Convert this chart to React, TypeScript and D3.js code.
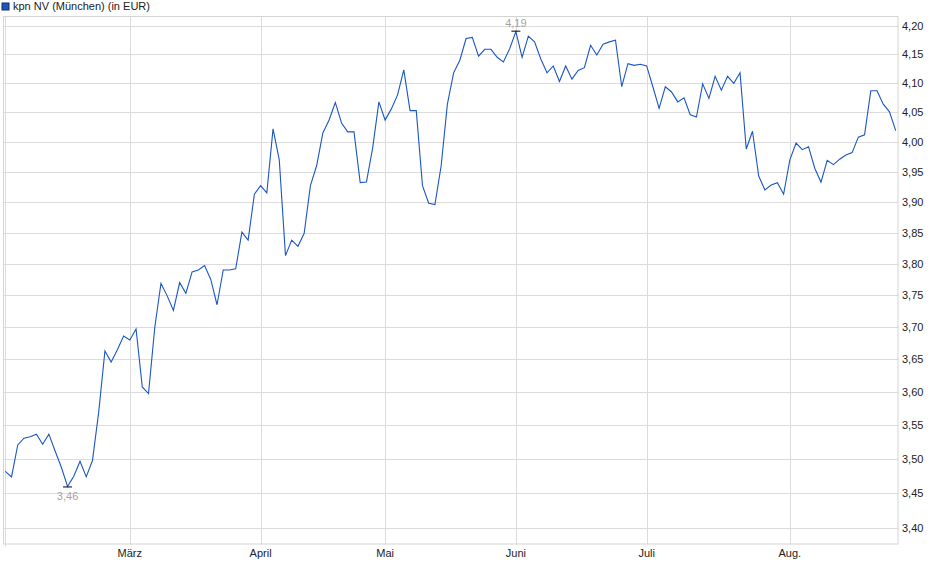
import React from "react";
import * as d3 from "d3";

const title = "kpn NV (München) (in EUR)";

const prices: number[] = [
  3.482, 3.474, 3.521, 3.531, 3.533, 3.537, 3.522, 3.537, 3.512, 3.488,
  3.46, 3.475, 3.497, 3.474, 3.498, 3.57, 3.663, 3.646, 3.665, 3.686,
  3.68, 3.697, 3.608, 3.598, 3.699, 3.769, 3.749, 3.726, 3.77, 3.753,
  3.787, 3.79, 3.797, 3.775, 3.735, 3.79, 3.79, 3.792, 3.851, 3.838,
  3.913, 3.927, 3.915, 4.022, 3.97, 3.813, 3.838, 3.828, 3.849, 3.927,
  3.96, 4.015, 4.037, 4.067, 4.032, 4.017, 4.017, 3.932, 3.933, 3.99,
  4.068, 4.037, 4.056, 4.08, 4.123, 4.053, 4.053, 3.927, 3.898, 3.896,
  3.96, 4.064, 4.118, 4.14, 4.178, 4.18, 4.147, 4.159, 4.159, 4.145,
  4.137, 4.16, 4.19, 4.145, 4.182, 4.172, 4.142, 4.118, 4.13, 4.103,
  4.13, 4.107, 4.122, 4.127, 4.166, 4.149, 4.168, 4.172, 4.175, 4.094,
  4.134, 4.131, 4.133, 4.13, 4.094, 4.057, 4.094, 4.085, 4.068, 4.075,
  4.046, 4.042, 4.099, 4.074, 4.112, 4.088, 4.112, 4.1, 4.118, 3.988,
  4.018, 3.943, 3.92, 3.928, 3.932, 3.913, 3.97, 3.998, 3.987, 3.992,
  3.956, 3.933, 3.969, 3.962, 3.971, 3.978, 3.982, 4.008, 4.012, 4.087,
  4.087, 4.064, 4.051, 4.019,
];

// index of the first trading day of each month
const monthStartIndex: number[] = [0, 20, 41, 61, 82, 103, 126];
const monthLabels: string[] = ["", "März", "April", "Mai", "Juni", "Juli", "Aug."];

const yTicks: number[] = [
  3.4, 3.45, 3.5, 3.55, 3.6, 3.65, 3.7, 3.75, 3.8, 3.85, 3.9, 3.95, 4.0,
  4.05, 4.1, 4.15, 4.2,
];

const W = 940;
const H = 579;
const plotLeft = 3;
const plotRight = 898.5;
const plotTop = 16;
const plotBottom = 544.5;

const fmt = (v: number) => v.toFixed(2).replace(".", ",");

export default function App() {
  const x = d3
    .scaleLinear()
    .domain([0, prices.length - 1])
    .range([5.3, 895.7]);
  const y = d3.scaleLog().domain([3.4, 4.2]).range([528, 26]);

  const line = d3
    .line<number>()
    .x((_, i) => x(i))
    .y((d) => y(d));

  const minIdx = d3.minIndex(prices);
  const maxIdx = d3.maxIndex(prices);
  const font = "'Liberation Sans', Arial, sans-serif";

  return (
    <svg
      width={W}
      height={H}
      style={{ position: "absolute", left: 0, top: 0, background: "#fff" }}
      fontFamily={font}
    >
      {/* legend/title */}
      <rect x={2} y={3} width={7} height={7} fill="#1a56c4" stroke="#1a2f5a" strokeWidth={1} />
      <text x={13} y={10} fontSize={11} fill="#222">
        {title}
      </text>

      {/* horizontal grid */}
      {yTicks.map((t) => (
        <line
          key={"h" + t}
          x1={plotLeft}
          x2={plotRight}
          y1={Math.round(y(t)) + 0.5}
          y2={Math.round(y(t)) + 0.5}
          stroke="#dcdcdc"
          strokeWidth={1}
        />
      ))}
      {/* vertical grid */}
      {monthStartIndex.map((m, i) => (
        <line
          key={"v" + i}
          x1={Math.round(x(m)) + 0.5}
          x2={Math.round(x(m)) + 0.5}
          y1={plotTop}
          y2={plotBottom + (i === 0 ? 2 : 0)}
          stroke="#dcdcdc"
          strokeWidth={1}
        />
      ))}
      {/* frame */}
      <rect
        x={plotLeft + 0.5}
        y={plotTop + 0.5}
        width={plotRight - plotLeft - 1}
        height={plotBottom - plotTop - 1}
        fill="none"
        stroke="#d4d4d4"
        strokeWidth={1}
      />

      {/* y labels */}
      {yTicks.map((t) => (
        <text
          key={"yl" + t}
          x={902}
          y={y(t) + 4}
          fontSize={11}
          fill="#222"
        >
          {fmt(t)}
        </text>
      ))}
      {/* x labels */}
      {monthStartIndex.map((m, i) =>
        monthLabels[i] ? (
          <text
            key={"xl" + i}
            x={x(m)}
            y={557}
            fontSize={11}
            fill="#222"
            textAnchor="middle"
          >
            {monthLabels[i]}
          </text>
        ) : null
      )}

      {/* price line */}
      <path d={line(prices) || ""} fill="none" stroke="#1a56c4" strokeWidth={1.1} />

      {/* min marker */}
      <line
        x1={x(minIdx) - 4.5}
        x2={x(minIdx) + 4.5}
        y1={y(prices[minIdx]) + 0.5}
        y2={y(prices[minIdx]) + 0.5}
        stroke="#000"
        strokeWidth={1}
      />
      <text x={x(minIdx)} y={y(prices[minIdx]) + 14} fontSize={11} fill="#a8a39b" textAnchor="middle">
        {fmt(prices[minIdx])}
      </text>
      {/* max marker */}
      <line
        x1={x(maxIdx) - 4.5}
        x2={x(maxIdx) + 4.5}
        y1={y(prices[maxIdx]) - 0.5}
        y2={y(prices[maxIdx]) - 0.5}
        stroke="#000"
        strokeWidth={1}
      />
      <text x={x(maxIdx)} y={y(prices[maxIdx]) - 5} fontSize={11} fill="#a8a39b" textAnchor="middle">
        {fmt(prices[maxIdx])}
      </text>
    </svg>
  );
}
